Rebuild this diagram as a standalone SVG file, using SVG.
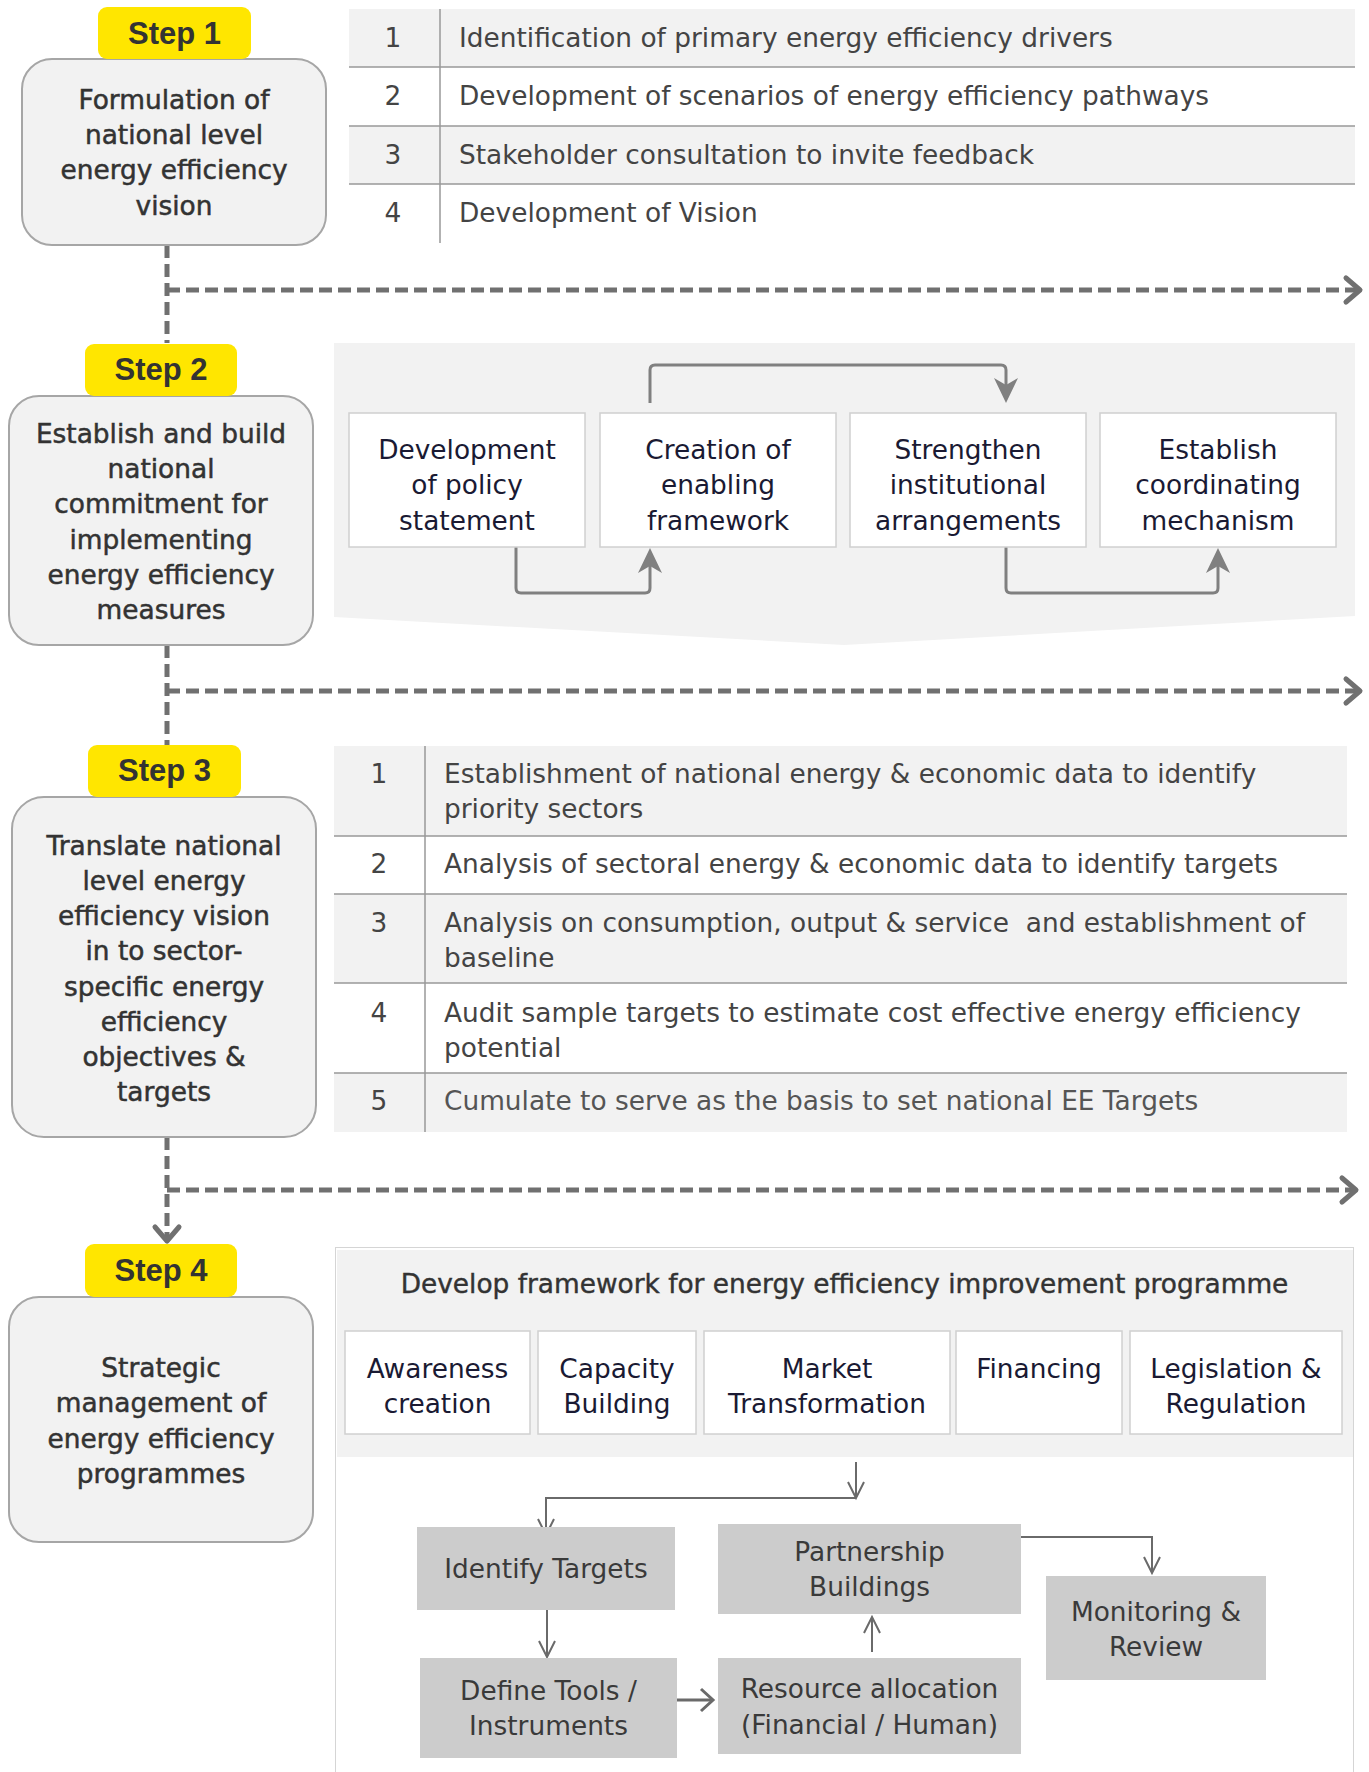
<svg xmlns="http://www.w3.org/2000/svg" width="1369" height="1772" viewBox="0 0 1369 1772">
<defs>
<style>
text{font-family:"DejaVu Sans","Liberation Sans",sans-serif;font-size:26.4px}
.step{font-family:"Liberation Sans",Arial,sans-serif;font-weight:bold;font-size:31px;fill:#333;text-anchor:middle}
.ylw{fill:#FFE600}
.main{fill:#f2f2f2;stroke:#a6a6a6;stroke-width:2}
.mt{fill:#333;text-anchor:middle;stroke:#333;stroke-width:0.5}
.title{fill:#333;text-anchor:middle;stroke:#333;stroke-width:0.4}
.tbl{fill:#444}
.num{fill:#444;text-anchor:middle}
.grey{fill:#f2f2f2}
.rule{stroke:#999;stroke-width:1.5}
.wbox{fill:#fff;stroke:#d0d0d0;stroke-width:1.5}
.bt{fill:#1a1a33;text-anchor:middle}
.fbox{fill:#cccccc}
.ft{fill:#3a3a3a;text-anchor:middle}
.dash{fill:none;stroke:#707070;stroke-width:5;stroke-dasharray:13 6}
.conn{fill:none;stroke:#808080;stroke-width:3;stroke-linejoin:round}
.thin{fill:none;stroke:#6a6a6a;stroke-width:2}
.thick{fill:none;stroke:#6a6a6a;stroke-width:3}
</style>
<marker id="chev" markerUnits="userSpaceOnUse" orient="auto" refX="0" refY="0" markerWidth="40" markerHeight="40" style="overflow:visible">
<path d="M-14,-12 L0,0 L-14,12" fill="none" stroke="#707070" stroke-width="5" stroke-linecap="round" stroke-linejoin="round"/>
</marker>
<marker id="stealth" markerUnits="userSpaceOnUse" orient="auto" refX="0" refY="0" markerWidth="40" markerHeight="40" style="overflow:visible">
<path d="M12,0 L-13,-12 L-6,0 L-13,12 Z" fill="#808080"/>
</marker>
<marker id="vee" markerUnits="userSpaceOnUse" orient="auto" refX="0" refY="0" markerWidth="40" markerHeight="40" style="overflow:visible">
<path d="M-16,-8 L0,0 L-16,8" fill="none" stroke="#6a6a6a" stroke-width="2"/>
</marker>
<marker id="vee2" markerUnits="userSpaceOnUse" orient="auto" refX="0" refY="0" markerWidth="40" markerHeight="40" style="overflow:visible">
<path d="M-12,-11 L0,0 L-12,11" fill="none" stroke="#6a6a6a" stroke-width="3"/>
</marker>
</defs>
<rect width="1369" height="1772" fill="#fff"/>

<!-- Step 2 and Step 4 panels (background) -->
<g id="step2-panel">
<polygon points="334,343 1355,343 1355,616 844,645 334,617" fill="#f2f2f2"/>
</g>
<g id="step4-panel">
<rect x="335.5" y="1247.5" width="1018" height="540" fill="#fff" stroke="#aaa" stroke-width="1" stroke-dasharray="1 1"/>
<rect x="337" y="1250" width="1016" height="207" fill="#f2f2f2"/>
<text x="844.5" y="1293" class="title">Develop framework for energy efficiency improvement programme</text>
</g>

<!-- Connectors -->
<g id="connectors">
<path class="dash" d="M167,245 V343"/>
<path class="dash" d="M167,290 H1360" marker-end="url(#chev)"/>
<path class="dash" d="M167,645 V745"/>
<path class="dash" d="M167,691 H1360" marker-end="url(#chev)"/>
<path class="dash" d="M167,1137 V1241" marker-end="url(#chev)"/>
<path class="dash" d="M167,1190 H1356" marker-end="url(#chev)"/>

<path class="conn" d="M516,547 V588 Q516,593 521,593 H645 Q650,593 650,588 V560" marker-end="url(#stealth)"/>
<path class="conn" d="M650,403 V370 Q650,365 655,365 H1001 Q1006,365 1006,370 V391" marker-end="url(#stealth)"/>
<path class="conn" d="M1006,547 V588 Q1006,593 1011,593 H1213 Q1218,593 1218,588 V560" marker-end="url(#stealth)"/>

<path class="thin" d="M856,1462 V1498" marker-end="url(#vee)"/>
<path class="thin" d="M856,1498 H546 V1535" marker-end="url(#vee)"/>
<path class="thin" d="M547,1602 V1657" marker-end="url(#vee)"/>
<path class="thick" d="M677,1700 H713" marker-end="url(#vee2)"/>
<path class="thin" d="M872,1652 V1617" marker-end="url(#vee)"/>
<path class="thin" d="M1020,1537 H1152 V1573" marker-end="url(#vee)"/>
</g>

<!-- Step 1 -->
<g id="step1">
<rect x="22" y="59" width="304" height="186" rx="30" class="main"/>
<rect x="98" y="7" width="153" height="52" rx="9" class="ylw"/>
<text x="174.5" y="44" class="step">Step 1</text>
<text x="174" y="109" class="mt">Formulation of</text>
<text x="174" y="144" class="mt">national level</text>
<text x="174" y="179" class="mt">energy efficiency</text>
<text x="174" y="215" class="mt">vision</text>
</g>
<g id="step1-table">
<rect x="349" y="9" width="1006" height="58" class="grey"/>
<rect x="349" y="126" width="1006" height="58" class="grey"/>
<line x1="349" y1="67" x2="1355" y2="67" class="rule"/>
<line x1="349" y1="126" x2="1355" y2="126" class="rule"/>
<line x1="349" y1="184" x2="1355" y2="184" class="rule"/>
<line x1="440" y1="9" x2="440" y2="243" class="rule"/>
<text x="393" y="47" class="num">1</text>
<text x="459" y="47" class="tbl">Identification of primary energy efficiency drivers</text>
<text x="393" y="105" class="num">2</text>
<text x="459" y="105" class="tbl">Development of scenarios of energy efficiency pathways</text>
<text x="393" y="164" class="num">3</text>
<text x="459" y="164" class="tbl">Stakeholder consultation to invite feedback</text>
<text x="393" y="222" class="num">4</text>
<text x="459" y="222" class="tbl">Development of Vision</text>
</g>

<!-- Step 2 -->
<g id="step2">
<rect x="9" y="396" width="304" height="249" rx="30" class="main"/>
<rect x="85" y="344" width="152" height="52" rx="9" class="ylw"/>
<text x="161" y="380" class="step">Step 2</text>
<text x="161" y="443" class="mt">Establish and build</text>
<text x="161" y="478" class="mt">national</text>
<text x="161" y="513" class="mt">commitment for</text>
<text x="161" y="549" class="mt">implementing</text>
<text x="161" y="584" class="mt">energy efficiency</text>
<text x="161" y="619" class="mt">measures</text>
</g>
<g id="s2-policy">
<rect x="349" y="413" width="236" height="134" class="wbox"/>
<text x="467" y="459" class="bt">Development</text>
<text x="467" y="494" class="bt">of policy</text>
<text x="467" y="530" class="bt">statement</text>
</g>
<g id="s2-framework">
<rect x="600" y="413" width="236" height="134" class="wbox"/>
<text x="718" y="459" class="bt">Creation of</text>
<text x="718" y="494" class="bt">enabling</text>
<text x="718" y="530" class="bt">framework</text>
</g>
<g id="s2-institutional">
<rect x="850" y="413" width="236" height="134" class="wbox"/>
<text x="968" y="459" class="bt">Strengthen</text>
<text x="968" y="494" class="bt">institutional</text>
<text x="968" y="530" class="bt">arrangements</text>
</g>
<g id="s2-coordinating">
<rect x="1100" y="413" width="236" height="134" class="wbox"/>
<text x="1218" y="459" class="bt">Establish</text>
<text x="1218" y="494" class="bt">coordinating</text>
<text x="1218" y="530" class="bt">mechanism</text>
</g>

<!-- Step 3 -->
<g id="step3">
<rect x="12" y="797" width="304" height="340" rx="32" class="main"/>
<rect x="88" y="745" width="153" height="52" rx="9" class="ylw"/>
<text x="164.5" y="781" class="step">Step 3</text>
<text x="164" y="855" class="mt">Translate national</text>
<text x="164" y="890" class="mt">level energy</text>
<text x="164" y="925" class="mt">efficiency vision</text>
<text x="164" y="960" class="mt">in to sector-</text>
<text x="164" y="996" class="mt">specific energy</text>
<text x="164" y="1031" class="mt">efficiency</text>
<text x="164" y="1066" class="mt">objectives &amp;</text>
<text x="164" y="1101" class="mt">targets</text>
</g>
<g id="step3-table">
<rect x="334" y="746" width="1013" height="90" class="grey"/>
<rect x="334" y="894" width="1013" height="89" class="grey"/>
<rect x="334" y="1073" width="1013" height="59" class="grey"/>
<line x1="334" y1="836" x2="1347" y2="836" class="rule"/>
<line x1="334" y1="894" x2="1347" y2="894" class="rule"/>
<line x1="334" y1="983" x2="1347" y2="983" class="rule"/>
<line x1="334" y1="1073" x2="1347" y2="1073" class="rule"/>
<line x1="425" y1="746" x2="425" y2="1132" class="rule"/>
<text x="379" y="783" class="num">1</text>
<text x="444" y="783" class="tbl">Establishment of national energy &amp; economic data to identify</text>
<text x="444" y="818" class="tbl">priority sectors</text>
<text x="379" y="873" class="num">2</text>
<text x="444" y="873" class="tbl">Analysis of sectoral energy &amp; economic data to identify targets</text>
<text x="379" y="932" class="num">3</text>
<text x="444" y="932" class="tbl" style="white-space:pre">Analysis on consumption, output &amp; service  and establishment of</text>
<text x="444" y="967" class="tbl">baseline</text>
<text x="379" y="1022" class="num">4</text>
<text x="444" y="1022" class="tbl">Audit sample targets to estimate cost effective energy efficiency</text>
<text x="444" y="1057" class="tbl">potential</text>
<text x="379" y="1110" class="num">5</text>
<text x="444" y="1110" class="tbl" style="fill:#555">Cumulate to serve as the basis to set national EE Targets</text>
</g>

<!-- Step 4 -->
<g id="step4">
<rect x="9" y="1297" width="304" height="245" rx="30" class="main"/>
<rect x="85" y="1244" width="152" height="53" rx="9" class="ylw"/>
<text x="161" y="1281" class="step">Step 4</text>
<text x="161" y="1377" class="mt">Strategic</text>
<text x="161" y="1412" class="mt">management of</text>
<text x="161" y="1448" class="mt">energy efficiency</text>
<text x="161" y="1483" class="mt">programmes</text>
</g>
<g id="s4-awareness">
<rect x="345" y="1331" width="185" height="103" class="wbox"/>
<text x="437.5" y="1378" class="bt">Awareness</text>
<text x="437.5" y="1413" class="bt">creation</text>
</g>
<g id="s4-capacity">
<rect x="538" y="1331" width="158" height="103" class="wbox"/>
<text x="617" y="1378" class="bt">Capacity</text>
<text x="617" y="1413" class="bt">Building</text>
</g>
<g id="s4-market">
<rect x="704" y="1331" width="246" height="103" class="wbox"/>
<text x="827" y="1378" class="bt">Market</text>
<text x="827" y="1413" class="bt">Transformation</text>
</g>
<g id="s4-financing">
<rect x="956" y="1331" width="166" height="103" class="wbox"/>
<text x="1039" y="1378" class="bt">Financing</text>
</g>
<g id="s4-legislation">
<rect x="1130" y="1331" width="212" height="103" class="wbox"/>
<text x="1236" y="1378" class="bt">Legislation &amp;</text>
<text x="1236" y="1413" class="bt">Regulation</text>
</g>
<g id="f-identify">
<rect x="417" y="1527" width="258" height="83" class="fbox"/>
<text x="546" y="1578" class="ft">Identify Targets</text>
</g>
<g id="f-partnership">
<rect x="718" y="1524" width="303" height="90" class="fbox"/>
<text x="869.5" y="1561" class="ft">Partnership</text>
<text x="869.5" y="1596" class="ft">Buildings</text>
</g>
<g id="f-monitoring">
<rect x="1046" y="1576" width="220" height="104" class="fbox"/>
<text x="1156" y="1621" class="ft">Monitoring &amp;</text>
<text x="1156" y="1656" class="ft">Review</text>
</g>
<g id="f-define">
<rect x="420" y="1658" width="257" height="100" class="fbox"/>
<text x="548.5" y="1700" class="ft">Define Tools /</text>
<text x="548.5" y="1735" class="ft">Instruments</text>
</g>
<g id="f-resource">
<rect x="718" y="1658" width="303" height="96" class="fbox"/>
<text x="869.5" y="1698" class="ft">Resource allocation</text>
<text x="869.5" y="1734" class="ft">(Financial / Human)</text>
</g>
</svg>
